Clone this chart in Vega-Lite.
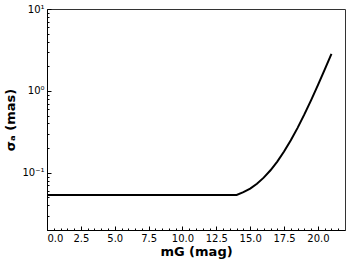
{
  "$schema": "https://vega.github.io/schema/vega-lite/v6.json",
  "width": 298,
  "height": 221,
  "autosize": {"type": "none"},
  "padding": {"left": 47, "top": 9, "right": 5, "bottom": 34},
  "background": "white",
  "config": {
    "view": {"stroke": "#333333", "strokeWidth": 1},
    "axis": {
      "grid": false,
      "domainColor": "black",
      "tickColor": "black",
      "labelColor": "black",
      "titleColor": "black",
      "labelFont": "DejaVu Sans",
      "titleFont": "DejaVu Sans",
      "labelFontSize": 10,
      "titleFontSize": 13,
      "titleFontWeight": "bold"
    }
  },
  "data": {
    "values": [
      {"G": 0, "sigma": 0.0537},
      {"G": 14, "sigma": 0.0537},
      {"G": 14.5, "sigma": 0.0579},
      {"G": 15, "sigma": 0.0642},
      {"G": 15.5, "sigma": 0.0735},
      {"G": 16, "sigma": 0.0872},
      {"G": 16.5, "sigma": 0.1073},
      {"G": 17, "sigma": 0.137},
      {"G": 17.5, "sigma": 0.1815},
      {"G": 18, "sigma": 0.249},
      {"G": 18.5, "sigma": 0.3534},
      {"G": 19, "sigma": 0.5162},
      {"G": 19.5, "sigma": 0.7723},
      {"G": 20, "sigma": 1.1767},
      {"G": 20.5, "sigma": 1.8167},
      {"G": 21, "sigma": 2.83}
    ]
  },
  "layer": [
    {
      "mark": {"type": "line", "color": "black", "strokeWidth": 2, "clip": true},
      "encoding": {
        "x": {
          "field": "G", "type": "quantitative",
          "scale": {"domain": [0, 22], "nice": false, "zero": false},
          "axis": {
            "orient": "bottom",
            "values": [0, 2.5, 5, 7.5, 10, 12.5, 15, 17.5, 20],
            "format": ".1f",
            "tickSize": -4,
            "labelPadding": 7,
            "title": "mG (mag)",
            "titlePadding": 2
          }
        },
        "y": {
          "field": "sigma", "type": "quantitative",
          "scale": {"type": "log", "domain": [0.02, 10], "nice": false},
          "axis": {
            "orient": "left",
            "values": [0.1, 1, 10],
            "labelExpr": "datum.value >= 5 ? '10¹' : (datum.value >= 0.5 ? '10⁰' : '10⁻¹')",
            "tickSize": -4,
            "labelPadding": 7,
            "title": "σₐ (mas)",
            "titlePadding": 4
          }
        }
      }
    },
    {
      "mark": {"type": "line", "opacity": 0},
      "encoding": {
        "x": {
          "field": "G", "type": "quantitative",
          "scale": {"domain": [0, 22], "nice": false, "zero": false},
          "axis": {
            "orient": "bottom",
            "values": [0.5, 1, 1.5, 2, 3, 3.5, 4, 4.5, 5.5, 6, 6.5, 7, 8, 8.5, 9, 9.5, 10.5, 11, 11.5, 12, 13, 13.5, 14, 14.5, 15.5, 16, 16.5, 17, 18, 18.5, 19, 19.5, 20.5, 21, 21.5],
            "tickSize": -2,
            "labels": false,
            "domain": false,
            "title": null
          }
        },
        "y": {
          "field": "sigma", "type": "quantitative",
          "scale": {"type": "log", "domain": [0.02, 10], "nice": false},
          "axis": {
            "orient": "left",
            "values": [0.02, 0.03, 0.04, 0.05, 0.06, 0.07, 0.08, 0.09, 0.2, 0.3, 0.4, 0.5, 0.6, 0.7, 0.8, 0.9, 2, 3, 4, 5, 6, 7, 8, 9],
            "tickSize": -2,
            "labels": false,
            "domain": false,
            "title": null
          }
        }
      }
    }
  ],
  "resolve": {"axis": {"x": "independent", "y": "independent"}}
}
